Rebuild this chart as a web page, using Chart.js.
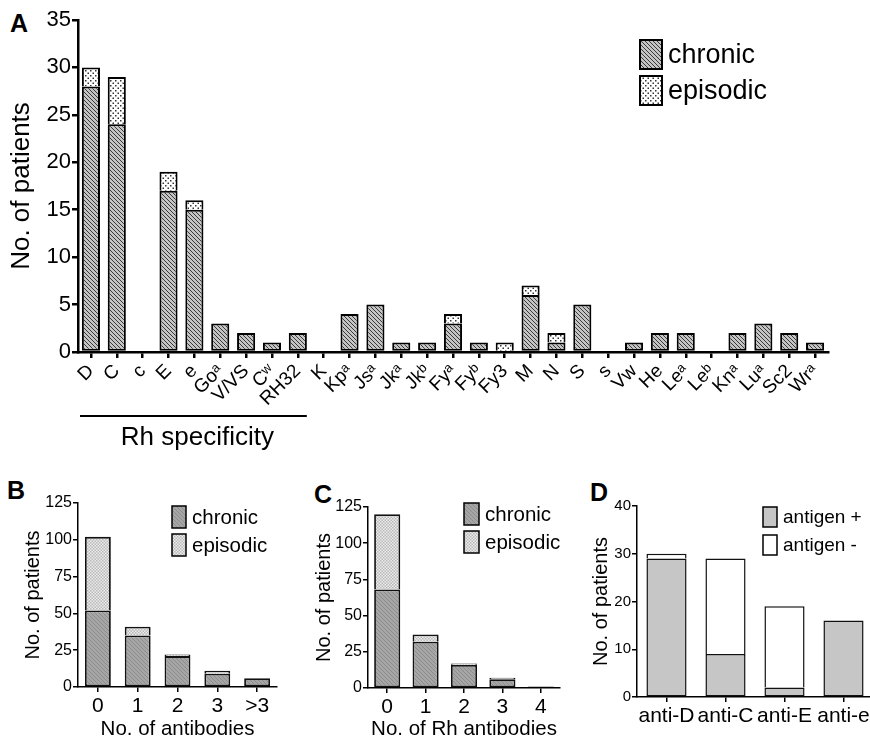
<!DOCTYPE html>
<html>
<head>
<meta charset="utf-8">
<script src="https://cdn.jsdelivr.net/npm/chart.js@4/dist/chart.umd.min.js"></script>
<style>
  body { margin: 0; background: #fff; overflow: hidden; width: 870px; height: 740px; position: relative; }
  .box { position: absolute; }
  .tag { position: absolute; font: bold 25px "Liberation Sans", Arial, sans-serif; color: #000; }
</style>
</head>
<body>
<div class="tag" style="left:10px;top:9px">A</div>
<div class="tag" style="left:7px;top:476px">B</div>
<div class="tag" style="left:314px;top:480px">C</div>
<div class="tag" style="left:590px;top:478px">D</div>

<div class="box" style="left:0;top:0;width:870px;height:455px"><canvas id="chartA"></canvas></div>
<div class="box" style="left:0;top:470px;width:290px;height:270px"><canvas id="chartB"></canvas></div>
<div class="box" style="left:290px;top:470px;width:290px;height:270px"><canvas id="chartC"></canvas></div>
<div class="box" style="left:570px;top:470px;width:306px;height:270px"><canvas id="chartD"></canvas></div>

<script>
// --- data ---
const rhLabels = ['D','C','c','E','e','Goᵃ','V/VS','Cʷ','RH32','K','Kpᵃ','Jsᵃ','Jkᵃ','Jkᵇ','Fyᵃ','Fyᵇ','Fy3','M','N','S','s','Vw','He','Leᵃ','Leᵇ','Knᵃ','Luᵃ','Sc2','Wrᵃ'];
const rhChronic  = [28,24,0,17,15,3,2,1,2,0,4,5,1,1,3,1,0,6,1,5,0,1,2,2,0,2,3,2,1];
const rhEpisodic = [2,5,0,2,1,0,0,0,0,0,0,0,0,0,1,0,1,1,1,0,0,0,0,0,0,0,0,0,0];

const abLabels = ['0','1','2','3','>3'];
const abChronic  = [52,35,21,9,6];
const abEpisodic = [50,6,1,2,0];

const rhAbLabels = ['0','1','2','3','4'];
const rhAbChronic  = [68,32,16,6,1];
const rhAbEpisodic = [52,5,1,1,0];

const antiLabels = ['anti-D','anti-C','anti-E','anti-e'];
const antigenPos = [29,9,2,16];
const antigenNeg = [1,20,17,0];

Chart.defaults.font.family = '"Liberation Sans", Arial, sans-serif';
Chart.defaults.color = '#000';
Chart.defaults.animation = false;

// --- fill patterns ---
function stripes(bg, fg) {
  const c = document.createElement('canvas');
  c.width = 4; c.height = 4;
  const g = c.getContext('2d');
  g.fillStyle = bg; g.fillRect(0, 0, 4, 4);
  g.fillStyle = fg;
  for (let i = 0; i < 4; i++) g.fillRect(i, i, 1, 1);
  return g.createPattern(c, 'repeat');
}
function dots(bg, fg, n) {
  const c = document.createElement('canvas');
  c.width = n; c.height = n;
  const g = c.getContext('2d');
  g.fillStyle = bg; g.fillRect(0, 0, n, n);
  g.fillStyle = fg;
  g.fillRect(0, 0, 1.5, 1.5);
  g.fillRect(n / 2, n / 2, 1.5, 1.5);
  return g.createPattern(c, 'repeat');
}

// legend drawn inside the plot, like the figure
const boxLegend = {
  id: 'boxLegend',
  afterDraw(chart, args, o) {
    const ctx = chart.ctx;
    ctx.save();
    ctx.font = o.size + 'px "Liberation Sans", Arial, sans-serif';
    ctx.textBaseline = 'middle';
    chart.data.datasets.forEach((ds, i) => {
      const y = o.y + i * o.gap;
      ctx.fillStyle = ds.backgroundColor;
      ctx.fillRect(o.x, y, o.w, o.h);
      ctx.lineWidth = o.lw;
      ctx.strokeStyle = '#000';
      ctx.strokeRect(o.x, y, o.w, o.h);
      ctx.fillStyle = '#000';
      ctx.fillText(ds.label, o.x + o.w + 6, y + o.h / 2 + 1);
    });
    ctx.restore();
  }
};

// "Rh specificity" bracket under panel A
const rhBracket = {
  id: 'rhBracket',
  afterDraw(chart) {
    const ctx = chart.ctx;
    const x = chart.scales.x;
    const x0 = chart.chartArea.left + 2;
    const x1 = x.getPixelForValue(8) + 9;
    ctx.save();
    ctx.strokeStyle = '#000';
    ctx.lineWidth = 2;
    ctx.beginPath();
    ctx.moveTo(x0, 416);
    ctx.lineTo(x1, 416);
    ctx.stroke();
    ctx.font = '26px "Liberation Sans", Arial, sans-serif';
    ctx.textAlign = 'center';
    ctx.textBaseline = 'top';
    ctx.fillStyle = '#000';
    ctx.fillText('Rh specificity', (x0 + x1) / 2 + 4, 425);
    ctx.restore();
  }
};

function axes(o) {
  return {
    x: {
      stacked: true,
      offset: true,
      grid: { offset: false, drawOnChartArea: false, color: '#000', lineWidth: o.bw, tickLength: o.tick },
      border: { color: '#000', width: o.bw },
      ticks: { autoSkip: false, minRotation: o.rot, maxRotation: o.rot, padding: 2, font: { size: o.xSize } },
      title: o.xTitle ? { display: true, text: o.xTitle, font: { size: o.xTitleSize, lineHeight: 1 }, padding: { top: 0, bottom: 0 } } : { display: false },
      afterFit: (s) => { s.height = o.xH; }
    },
    y: {
      stacked: true,
      min: 0, max: o.max,
      grid: { drawOnChartArea: false, color: '#000', lineWidth: o.bw, tickLength: o.tick },
      border: { color: '#000', width: o.bw },
      ticks: { stepSize: o.step, padding: 1, font: { size: o.ySize } },
      title: { display: true, text: 'No. of patients', font: { size: o.yTitleSize }, padding: { top: o.yTitlePad, bottom: 0 } },
      afterFit: (s) => { s.width = o.yW; }
    }
  };
}

// --- A ---
new Chart(document.getElementById('chartA'), {
  type: 'bar',
  data: {
    labels: rhLabels,
    datasets: [
      { label: 'chronic', data: rhChronic, backgroundColor: stripes('#c4c4c4', '#3a3a3a'), borderColor: '#000', borderWidth: 2, borderSkipped: false },
      { label: 'episodic', data: rhEpisodic, backgroundColor: dots('#ffffff', '#333333', 5), borderColor: '#000', borderWidth: 2, borderSkipped: 'bottom' }
    ]
  },
  options: {
    responsive: true,
    maintainAspectRatio: false,
    layout: { padding: { top: 20, right: 42 } },
    datasets: { bar: { barPercentage: 0.7, categoryPercentage: 1 } },
    plugins: {
      legend: { display: false },
      tooltip: { enabled: false },
      boxLegend: { x: 640, y: 40, w: 22, h: 29, gap: 36, size: 27, lw: 2 }
    },
    scales: axes({ max: 35, step: 5, bw: 2.5, tick: 6, rot: 45, xSize: 19, ySize: 22, yTitleSize: 26, yTitlePad: 6, xH: 103, yW: 78 })
  },
  plugins: [boxLegend, rhBracket]
});

// --- B ---
new Chart(document.getElementById('chartB'), {
  type: 'bar',
  data: {
    labels: abLabels,
    datasets: [
      { label: 'chronic', data: abChronic, backgroundColor: stripes('#a6a6a6', '#8c8c8c'), borderColor: '#111', borderWidth: 1.8, borderSkipped: false },
      { label: 'episodic', data: abEpisodic, backgroundColor: dots('#ececec', '#b8b8b8', 3), borderColor: '#111', borderWidth: 1.8, borderSkipped: 'bottom' }
    ]
  },
  options: {
    responsive: true,
    maintainAspectRatio: false,
    layout: { padding: { top: 33, right: 13 } },
    datasets: { bar: { barPercentage: 0.65, categoryPercentage: 1 } },
    plugins: {
      legend: { display: false },
      tooltip: { enabled: false },
      boxLegend: { x: 172, y: 36, w: 14, h: 22, gap: 28, size: 20.5, lw: 1.5 }
    },
    scales: axes({ max: 125, step: 25, bw: 1.5, tick: 5, rot: 0, xSize: 21, ySize: 16, xTitle: 'No. of antibodies', xTitleSize: 20.5, yTitleSize: 20, yTitlePad: 21, xH: 53, yW: 78 })
  },
  plugins: [boxLegend]
});

// --- C ---
new Chart(document.getElementById('chartC'), {
  type: 'bar',
  data: {
    labels: rhAbLabels,
    datasets: [
      { label: 'chronic', data: rhAbChronic, backgroundColor: stripes('#a6a6a6', '#8c8c8c'), borderColor: '#111', borderWidth: 1.8, borderSkipped: false },
      { label: 'episodic', data: rhAbEpisodic, backgroundColor: dots('#ececec', '#b8b8b8', 3), borderColor: '#111', borderWidth: 1.8, borderSkipped: 'bottom' }
    ]
  },
  options: {
    responsive: true,
    maintainAspectRatio: false,
    layout: { padding: { top: 37, right: 20 } },
    datasets: { bar: { barPercentage: 0.68, categoryPercentage: 1 } },
    plugins: {
      legend: { display: false },
      tooltip: { enabled: false },
      boxLegend: { x: 174, y: 33, w: 15, h: 22, gap: 28, size: 20.5, lw: 1.5 }
    },
    scales: axes({ max: 125, step: 25, bw: 1.5, tick: 5, rot: 0, xSize: 21, ySize: 16, xTitle: 'No. of Rh antibodies', xTitleSize: 20.5, yTitleSize: 20, yTitlePad: 22, xH: 52, yW: 78 })
  },
  plugins: [boxLegend]
});

// --- D ---
new Chart(document.getElementById('chartD'), {
  type: 'bar',
  data: {
    labels: antiLabels,
    datasets: [
      { label: 'antigen +', data: antigenPos, backgroundColor: '#c6c6c6', borderColor: '#111', borderWidth: 1.5, borderSkipped: false },
      { label: 'antigen -', data: antigenNeg, backgroundColor: '#ffffff', borderColor: '#111', borderWidth: 1.5, borderSkipped: 'bottom' }
    ]
  },
  options: {
    responsive: true,
    maintainAspectRatio: false,
    layout: { padding: { top: 36, right: 3 } },
    datasets: { bar: { barPercentage: 0.68, categoryPercentage: 1 } },
    plugins: {
      legend: { display: false },
      tooltip: { enabled: false },
      boxLegend: { x: 193, y: 37, w: 14, h: 20, gap: 28, size: 19, lw: 1.5 }
    },
    scales: axes({ max: 40, step: 10, bw: 1.5, tick: 5, rot: 0, xSize: 21, ySize: 15, yTitleSize: 20, yTitlePad: 19, xH: 43, yW: 67 })
  },
  plugins: [boxLegend]
});
</script>
</body>
</html>
